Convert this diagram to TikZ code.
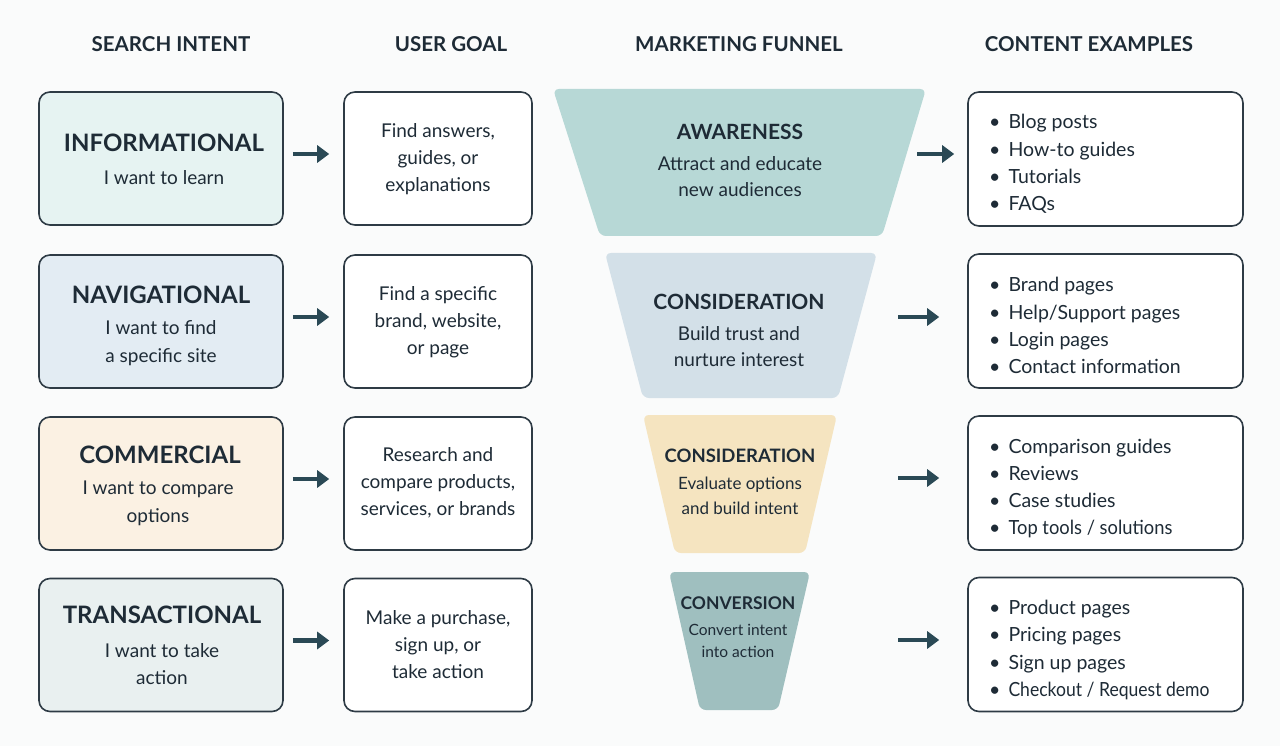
\documentclass[tikz,border=0pt]{standalone}
\usepackage{fontspec}
\setmainfont{Lato}
\usetikzlibrary{arrows.meta}
\definecolor{bg}{HTML}{FAFBFB}
\definecolor{ink}{HTML}{1E2B36}
\definecolor{edge}{HTML}{2E3B45}
\definecolor{arr}{HTML}{2A4955}
\definecolor{fillA}{HTML}{E6F3F2}
\definecolor{fillB}{HTML}{E3ECF3}
\definecolor{fillC}{HTML}{FBF1E3}
\definecolor{fillD}{HTML}{E9F0F0}
\definecolor{funA}{HTML}{B7D8D6}
\definecolor{funB}{HTML}{D3E0E8}
\definecolor{funC}{HTML}{F5E4C0}
\definecolor{funD}{HTML}{9FBFBF}
\tikzset{
  hdr/.style={font=\bfseries\fontsize{20.5}{25}\selectfont, text=ink},
  intentbox/.style={draw=edge, line width=1.6pt, rounded corners=11pt, minimum width=244pt, minimum height=133pt, inner sep=0pt},
  goalbox/.style={draw=edge, line width=1.6pt, rounded corners=11pt, fill=white, minimum width=188pt, minimum height=133pt, inner sep=0pt},
  contbox/.style={draw=edge, line width=1.6pt, rounded corners=11pt, fill=white, minimum width=275pt, minimum height=134pt, inner sep=0pt},
  ttl/.style={font=\bfseries\fontsize{24}{30}\selectfont, text=ink, inner sep=0pt},
  sub/.style={font=\fontsize{19}{27.5}\selectfont, text=ink, align=center, inner sep=0pt},
  goaltxt/.style={font=\fontsize{19}{27}\selectfont, text=ink, align=center, inner sep=0pt},
  bullets/.style={font=\fontsize{19.5}{27.2}\selectfont, text=ink, align=left, inner sep=0pt, anchor=west},
  funnel/.style={rounded corners=6pt},
  ftl/.style={font=\bfseries\fontsize{21}{25}\selectfont, text=ink, inner sep=0pt},
  fsub/.style={font=\fontsize{19}{26}\selectfont, text=ink, align=center, inner sep=0pt},
  flow/.style={draw=arr, line width=4.5pt, -{Triangle[length=12pt,width=17pt]}},
}
\newcommand{\bl}{\textbullet\hspace{8pt}}
\begin{document}
\begin{tikzpicture}[x=1pt,y=-1pt]
\fill[bg] (0,0) rectangle (1280,746);
\useasboundingbox (0,0) rectangle (1280,746);

% headers
\node[hdr] (h1) at (171,44) {SEARCH INTENT};
\node[hdr] (h2) at (451,44) {USER GOAL};
\node[hdr] (h3) at (739,44) {MARKETING FUNNEL};
\node[hdr] (h4) at (1089,44) {CONTENT EXAMPLES};

% column 1
\node[intentbox, fill=fillA] (b1) at (161,158.5) {};
\node[intentbox, fill=fillB] (b2) at (161,321.5) {};
\node[intentbox, fill=fillC] (b3) at (161,483.5) {};
\node[intentbox, fill=fillD] (b4) at (161,645) {};
\node[ttl] (t1) at (164,143) {INFORMATIONAL};
\node[sub] (s1) at (164,177.5) {I want to learn};
\node[ttl] (t2) at (161,295) {NAVIGATIONAL};
\node[sub] (s2) at (161,343) {I want to find\\a specific site};
\node[ttl] (t3) at (160,455) {COMMERCIAL};
\node[sub] (s3) at (158,503.5) {I want to compare\\options};
\node[ttl] (t4) at (162,615) {TRANSACTIONAL};
\node[sub] (s4) at (162,664) {I want to take\\action};

% column 2
\node[goalbox] (g1) at (438,158.5) {};
\node[goalbox] (g2) at (438,321.5) {};
\node[goalbox] (g3) at (438,483.5) {};
\node[goalbox] (g4) at (438,645) {};
\node[goaltxt] (gt1) at (438,159) {Find answers,\\guides, or\\explanations};
\node[goaltxt] (gt2) at (438,322.5) {Find a specific\\brand, website,\\or page};
\node[goaltxt] (gt3) at (438,482.5) {Research and\\compare products,\\services, or brands};
\node[goaltxt] (gt4) at (438,645) {Make a purchase,\\sign up, or\\take action};

\foreach \i in {1,2,3,4}{
  \draw[flow, shorten <=9pt, shorten >=14pt] ([yshift=4.5pt]b\i.east) -- ([yshift=4.5pt]g\i.west);
}

% funnel
\fill[funA, funnel] (553,89) -- (926,89) -- (882,236) -- (600,236) -- cycle;
\fill[funB, funnel] (605,253) -- (877,253) -- (838,398) -- (643,398) -- cycle;
\fill[funC, funnel] (643,415) -- (837,415) -- (805,553) -- (675,553) -- cycle;
\fill[funD, funnel] (669,572) -- (810,572) -- (778,710) -- (700,710) -- cycle;

\node[ftl] (ft1) at (740,131.5) {AWARENESS};
\node[fsub] (fs1) at (740,177) {Attract and educate\\new audiences};
\node[ftl] (ft2) at (739,301.5) {CONSIDERATION};
\node[fsub] (fs2) at (739,346.5) {Build trust and\\nurture interest};
\node[ftl, font=\bfseries\fontsize{18.5}{23}\selectfont] (ft3) at (740,455.5) {CONSIDERATION};
\node[fsub, font=\fontsize{17}{24.5}\selectfont] (fs3) at (740,496) {Evaluate options\\and build intent};
\node[ftl, font=\bfseries\fontsize{17.5}{21}\selectfont] (ft4) at (738,603.5) {CONVERSION};
\node[fsub, font=\fontsize{15.5}{22}\selectfont] (fs4) at (738,641) {Convert intent\\into action};

% column 4
\node[contbox] (c1) at (1105.5,159) {};
\node[contbox] (c2) at (1105.5,321) {};
\node[contbox] (c3) at (1105.5,483) {};
\node[contbox] (c4) at (1105.5,644.5) {};
\node[bullets] (l1) at (989,164) {\bl Blog posts\\\bl How-to guides\\\bl Tutorials\\\bl FAQs};
\node[bullets] (l2) at (989,325.5) {\bl Brand pages\\\bl Help/Support pages\\\bl Login pages\\\bl Contact information};
\node[bullets] (l3) at (989,488.5) {\bl Comparison guides\\\bl Reviews\\\bl Case studies\\\bl \scalebox{0.94}[1]{Top tools / solutions}};
\node[bullets] (l4) at (989,650) {\bl Product pages\\\bl Pricing pages\\\bl Sign up pages\\\bl \scalebox{0.9}[1]{Checkout / Request demo}};

\coordinate (f1) at (917,154);
\coordinate (f2) at (898,317);
\coordinate (f3) at (898,478);
\coordinate (f4) at (898,640);
\draw[flow, shorten >=13pt] (f1) -- (f1 -| c1.west);
\draw[flow, shorten >=28pt] (f2) -- (f2 -| c2.west);
\draw[flow, shorten >=28pt] (f3) -- (f3 -| c3.west);
\draw[flow, shorten >=28pt] (f4) -- (f4 -| c4.west);
\end{tikzpicture}
\end{document}
